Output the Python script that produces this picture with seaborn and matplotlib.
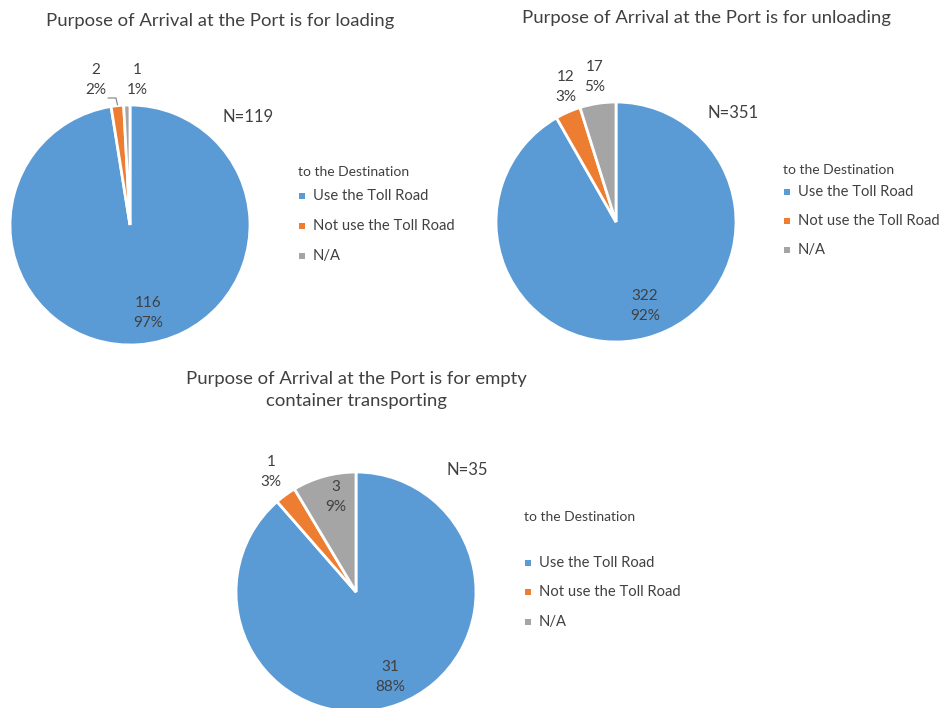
import matplotlib
matplotlib.use("Agg")
import matplotlib.pyplot as plt
import seaborn as sns

sns.set_theme(style="white")
plt.rcParams["font.family"] = ["Lato", "DejaVu Sans"]

# Data
categories = ["Use the Toll Road", "Not use the Toll Road", "N/A"]
loading_counts = [116, 2, 1]
loading_pcts = ["97%", "2%", "1%"]
unloading_counts = [322, 12, 17]
unloading_pcts = ["92%", "3%", "5%"]
empty_counts = [31, 1, 3]
empty_pcts = ["88%", "3%", "9%"]
titles = [
    "Purpose of Arrival at the Port is for loading",
    "Purpose of Arrival at the Port is for unloading",
    "Purpose of Arrival at the Port is for empty\ncontainer transporting",
]
legend_title = "to the Destination"

colors = sns.color_palette(["#5B9BD5", "#ED7D31", "#A5A5A5"])
TXT = "#404040"

W, H = 947, 708
fig = plt.figure(figsize=(W / 100, H / 100), dpi=100)

# overlay in pixel coordinates for text and legend markers
ov = fig.add_axes([0, 0, 1, 1], zorder=5)
ov.set_xlim(0, W)
ov.set_ylim(H, 0)
ov.axis("off")
ov.patch.set_alpha(0)


def draw_pie(cx, cy, r, counts):
    ax = fig.add_axes([(cx - r) / W, 1 - (cy + r) / H, 2 * r / W, 2 * r / H])
    wedges, _ = ax.pie(counts, colors=colors, startangle=90, counterclock=False,
                       radius=1.0,
                       wedgeprops=dict(edgecolor="white", linewidth=2.0))
    for w in wedges:
        w.set_clip_on(False)
    ax.set_xlim(-1, 1)
    ax.set_ylim(-1, 1)
    ax.set_aspect("equal")
    ax.axis("off")
    return ax


def label(x, y, count, pct):
    ov.text(x, y, f"{count}\n{pct}", ha="center", va="center", fontsize=11,
            color=TXT, linespacing=1.6)


def legend(x, ytitle, ys):
    ov.text(x, ytitle, legend_title, ha="left", va="center", fontsize=10, color=TXT)
    for y, name, c in zip(ys, categories, colors):
        ov.scatter([x + 4], [y], marker="s", s=22, color=c, linewidths=0)
        ov.text(x + 15, y, name, ha="left", va="center", fontsize=10.6, color=TXT)


# Loading
draw_pie(130, 225, 120, loading_counts)
ov.text(220, 21, titles[0], ha="center", va="center", fontsize=13.3, color=TXT)
label(148, 313, loading_counts[0], loading_pcts[0])
label(96, 80, loading_counts[1], loading_pcts[1])
label(137, 80, loading_counts[2], loading_pcts[2])
ov.plot([108, 116, 117.5], [98, 98, 105], color="#7f7f7f", lw=0.8)
ov.text(248, 117, "N=119", ha="center", va="center", fontsize=12, color=TXT)
legend(298, 172, [196, 226, 256])

# Unloading
draw_pie(616, 222, 120, unloading_counts)
ov.text(707, 18, titles[1], ha="center", va="center", fontsize=13.3, color=TXT)
label(645, 306, unloading_counts[0], unloading_pcts[0])
label(566, 87, unloading_counts[1], unloading_pcts[1])
label(595, 77, unloading_counts[2], unloading_pcts[2])
ov.text(733, 113, "N=351", ha="center", va="center", fontsize=12, color=TXT)
legend(783, 170, [192, 221, 250])

# Empty container transporting
draw_pie(356, 592, 120, empty_counts)
ov.text(356, 390, titles[2], ha="center", va="center", fontsize=13.3, color=TXT,
        linespacing=1.45)
label(390, 677, empty_counts[0], empty_pcts[0])
label(271, 472, empty_counts[1], empty_pcts[1])
label(336, 497, empty_counts[2], empty_pcts[2])
ov.text(467, 470, "N=35", ha="center", va="center", fontsize=12, color=TXT)
legend(524, 517, [563, 592, 622])

fig.savefig("out.png", dpi=100, facecolor="white")
